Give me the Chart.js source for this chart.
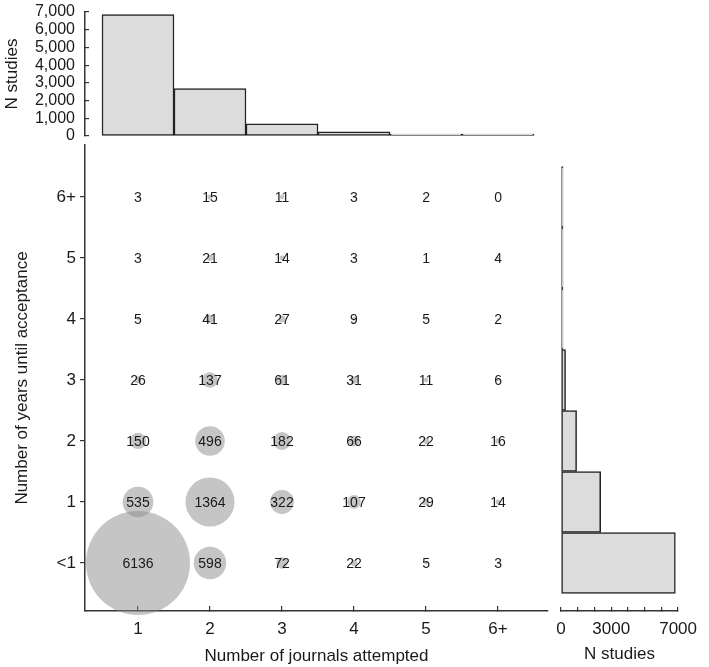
<!DOCTYPE html>
<html>
<head>
<meta charset="utf-8">
<script src="https://cdn.jsdelivr.net/npm/chart.js@4.4.1/dist/chart.umd.min.js"></script>
<style>
  html, body { margin: 0; padding: 0; background: #fff; }
  #wrap { position: relative; width: 709px; height: 667px; }
  #wrap canvas { position: absolute; left: 0; top: 0; }
</style>
</head>
<body>
<div id="wrap">
  <canvas id="topHist" width="709" height="667"></canvas>
  <canvas id="main" width="709" height="667"></canvas>
  <canvas id="rightHist" width="709" height="667"></canvas>
</div>
<script>
const journalLabels = ['1', '2', '3', '4', '5', '6+'];
const yearLabels = ['<1', '1', '2', '3', '4', '5', '6+'];

// studies per cell: one row per "years until acceptance", across journals 1..6+
const yearLt1 = [6136, 598, 72, 22, 5, 3];
const year1 = [535, 1364, 322, 107, 29, 14];
const year2 = [150, 496, 182, 66, 22, 16];
const year3 = [26, 137, 61, 31, 11, 6];
const year4 = [5, 41, 27, 9, 5, 2];
const year5 = [3, 21, 14, 3, 1, 4];
const year6plus = [3, 15, 11, 3, 2, 0];
const cellRows = [yearLt1, year1, year2, year3, year4, year5, year6plus];

// marginal histograms
const studiesByJournals = [6858, 2672, 689, 241, 75, 45];
const studiesByYears = [6836, 2371, 932, 272, 89, 46, 34];

const rightTickLabels = [0, 3000, 7000];

const X_MIN = 0.264, X_MAX = 6.694;
const Y_MIN = -0.787, Y_MAX = 6.852;

Chart.defaults.font.family = '"Liberation Sans", Arial, sans-serif';
Chart.defaults.color = '#1a1a1a';

const axisColor = '#333';
const barFill = '#dcdcdc';
const barEdge = '#222';

const baseOptions = {
    responsive: false,
    animation: false,
    devicePixelRatio: 1,
    events: [],
    plugins: { legend: { display: false }, tooltip: { enabled: false } }
};

// integer ticks only, so bar widths come out as one full unit
function journalTicks(s) { s.ticks = journalLabels.map(function(_, i) { return { value: i + 1 }; }); }
function yearTicks(s) { s.ticks = yearLabels.map(function(_, i) { return { value: i }; }); }

// top histogram: N studies by journals attempted
new Chart(document.getElementById('topHist'), {
    type: 'bar',
    data: {
        datasets: [{
            data: studiesByJournals.map(function(v, i) { return { x: i + 1, y: v }; }),
            backgroundColor: barFill,
            borderColor: barEdge,
            borderWidth: 1.5,
            borderSkipped: false,
            minBarLength: 2,
            barPercentage: 1,
            categoryPercentage: 1
        }]
    },
    options: Object.assign({}, baseOptions, {
        layout: { padding: { left: 0, top: 12, right: 161, bottom: 531 } },
        scales: {
            x: { type: 'linear', min: X_MIN, max: X_MAX, offset: false, display: false, afterBuildTicks: journalTicks },
            y: {
                min: 0, max: 7000,
                ticks: { stepSize: 1000, padding: 14, autoSkip: false, font: { size: 16 } },
                grid: { drawOnChartArea: false, tickLength: -4, color: axisColor, lineWidth: 1.2 },
                border: { color: axisColor, width: 1.5 },
                title: { display: true, text: 'N studies', font: { size: 17 }, padding: { top: 2, bottom: 0 } },
                afterFit: function(s) { s.width = 85; s.paddingTop = 0; s.paddingBottom = 0; }
            }
        }
    })
});

// main bubble grid
const bubblePoints = [];
cellRows.forEach(function(row, yi) {
    row.forEach(function(v, xi) {
        bubblePoints.push({ x: xi + 1, y: yi, r: 0.664 * Math.sqrt(v), v: v });
    });
});

const valueLabels = {
    id: 'valueLabels',
    afterDatasetsDraw: function(chart) {
        const ctx = chart.ctx;
        const meta = chart.getDatasetMeta(0);
        const pts = chart.data.datasets[0].data;
        ctx.save();
        ctx.font = '14px "Liberation Sans", Arial, sans-serif';
        ctx.fillStyle = '#1a1a1a';
        ctx.textAlign = 'center';
        ctx.textBaseline = 'middle';
        meta.data.forEach(function(el, i) {
            ctx.fillText(String(pts[i].v), el.x, el.y + 1);
        });
        ctx.restore();
    }
};

new Chart(document.getElementById('main'), {
    type: 'bubble',
    data: {
        datasets: [{
            data: bubblePoints,
            backgroundColor: 'rgba(140, 140, 140, 0.5)',
            borderWidth: 0,
            clip: false
        }]
    },
    options: Object.assign({}, baseOptions, {
        layout: { padding: { left: 0, top: 145, right: 161, bottom: 0 } },
        scales: {
            x: {
                type: 'linear', min: X_MIN, max: X_MAX, z: 1,
                afterBuildTicks: journalTicks,
                ticks: { font: { size: 17 }, padding: 13, maxRotation: 0, autoSkip: false,
                    callback: function(v) { return journalLabels[v - 1]; } },
                grid: { drawOnChartArea: false, tickLength: -5, color: axisColor, lineWidth: 1.2 },
                border: { color: axisColor, width: 1.5 },
                title: { display: true, text: 'Number of journals attempted', font: { size: 17 }, padding: { top: 0, bottom: 0 } },
                afterFit: function(s) { s.height = 56; }
            },
            y: {
                type: 'linear', min: Y_MIN, max: Y_MAX, z: 1,
                afterBuildTicks: yearTicks,
                ticks: { font: { size: 17 }, padding: 4, autoSkip: false,
                    callback: function(v) { return yearLabels[v]; } },
                grid: { drawOnChartArea: false, tickLength: 5, color: axisColor, lineWidth: 1.2 },
                border: { color: axisColor, width: 1.5 },
                title: { display: true, text: 'Number of years until acceptance', font: { size: 17 }, padding: { top: 12, bottom: 0 } },
                afterFit: function(s) { s.width = 85; }
            }
        }
    }),
    plugins: [valueLabels]
});

// right histogram: N studies by years until acceptance
new Chart(document.getElementById('rightHist'), {
    type: 'bar',
    data: {
        datasets: [{
            data: studiesByYears.map(function(v, i) { return { x: v, y: i }; }),
            backgroundColor: barFill,
            borderColor: barEdge,
            borderWidth: 1.5,
            borderSkipped: false,
            minBarLength: 2,
            barPercentage: 1,
            categoryPercentage: 1
        }]
    },
    options: Object.assign({}, baseOptions, {
        indexAxis: 'y',
        layout: { padding: { left: 561, top: 145, right: 21, bottom: 0 } },
        scales: {
            y: { type: 'linear', min: Y_MIN, max: Y_MAX, offset: false, display: false, afterBuildTicks: yearTicks },
            x: {
                min: 0, max: 7000,
                ticks: { stepSize: 1000, font: { size: 17 }, padding: 12, maxRotation: 0, autoSkip: false,
                    callback: function(v) { return rightTickLabels.indexOf(v) >= 0 ? String(v) : ''; } },
                grid: { drawOnChartArea: false, tickLength: -4, color: axisColor, lineWidth: 1.2 },
                border: { color: axisColor, width: 1.5 },
                title: { display: true, text: 'N studies', font: { size: 17 }, padding: { top: 0, bottom: 2 } },
                afterFit: function(s) { s.height = 56; }
            }
        }
    })
});
</script>
</body>
</html>
